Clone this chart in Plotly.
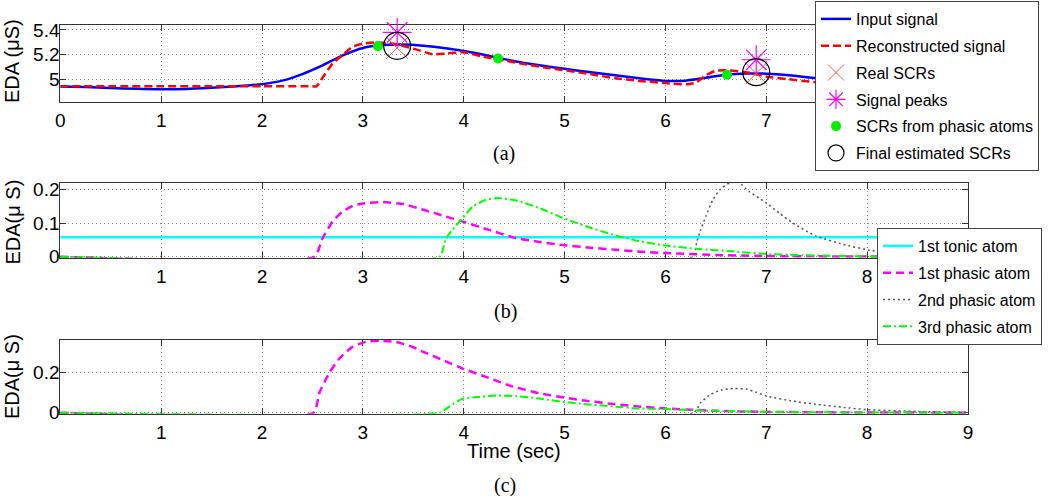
import plotly.graph_objects as go

# ---------------- Panel (a) data ----------------
t_input = [0, 0.25, 0.5, 0.75, 1.0, 1.25, 1.5, 1.75, 2.0, 2.2, 2.4, 2.6, 2.8, 3.0, 3.2, 3.4,
           3.6, 3.8, 4.0, 4.2, 4.4, 4.6, 4.8, 5.0, 5.2, 5.4, 5.6, 5.8, 6.0, 6.2, 6.4, 6.6,
           6.8, 7.0, 7.2, 7.4, 7.6, 7.8, 8.0, 8.25, 8.5, 8.75, 9.0]
eda_input = [4.944, 4.940, 4.933, 4.926, 4.922, 4.925, 4.935, 4.947, 4.964, 4.992, 5.045, 5.115,
             5.195, 5.255, 5.278, 5.282, 5.272, 5.255, 5.230, 5.200, 5.165, 5.135, 5.110, 5.087,
             5.065, 5.045, 5.025, 5.005, 4.990, 4.992, 5.015, 5.040, 5.050, 5.048, 5.038, 5.020,
             5.002, 4.987, 4.976, 4.966, 4.958, 4.952, 4.948]

t_recon = [0, 0.5, 1.0, 1.5, 2.0, 2.5, 2.54, 2.62, 2.7, 2.8, 2.9, 3.0, 3.13, 3.3, 3.5, 3.69,
           3.82, 4.0, 4.19, 4.4, 4.6, 4.8, 5.0, 5.25, 5.5, 5.75, 6.0, 6.21, 6.3, 6.4, 6.5, 6.6,
           6.8, 7.0, 7.2, 7.47, 7.75, 8.0, 8.5, 9.0]
eda_recon = [4.946, 4.946, 4.946, 4.946, 4.946, 4.946, 4.946, 5.04, 5.13, 5.20, 5.265, 5.29,
             5.30, 5.29, 5.25, 5.205, 5.21, 5.22, 5.185, 5.155, 5.125, 5.098, 5.075, 5.045,
             5.012, 4.99, 4.972, 4.962, 4.975, 5.035, 5.072, 5.076, 5.06, 5.025, 5.005, 4.982,
             4.972, 4.966, 4.958, 4.955]

real_scr_t = [3.34, 6.90]
real_scr_v = [5.255, 5.050]
peak_t = [3.34, 6.90]
peak_v = [5.380, 5.160]
phasic_scr_t = [3.15, 4.34, 6.61]
phasic_scr_v = [5.270, 5.170, 5.040]
final_scr_t = [3.34, 6.90]
final_scr_v = [5.272, 5.060]

# ---------------- Panel (b) data ----------------
tonic_t = [0, 9]
tonic_b = [0.058, 0.058]

p1_t_b = [0, 2.52, 2.6, 2.7, 2.8, 2.9, 3.0, 3.2, 3.4, 3.6, 3.8, 4.0, 4.25, 4.5, 4.75, 5.0,
          5.25, 5.5, 5.75, 6.0, 6.5, 7.0, 7.5, 8.0, 9.0]
p1_b = [0, 0, 0.055, 0.105, 0.135, 0.152, 0.159, 0.163, 0.157, 0.140, 0.122, 0.104, 0.080,
        0.057, 0.044, 0.034, 0.027, 0.021, 0.015, 0.011, 0.005, 0.002, 0.001, 0.0005, 0]

p2_t_b = [0, 6.27, 6.31, 6.35, 6.40, 6.47, 6.54, 6.64, 6.73, 6.83, 6.93, 7.0, 7.13, 7.26,
          7.49, 7.76, 8.05, 8.5, 9.0]
p2_b = [0, 0, 0.043, 0.081, 0.120, 0.170, 0.200, 0.221, 0.221, 0.194, 0.175, 0.160, 0.130,
        0.101, 0.062, 0.037, 0.018, 0.008, 0.003]

p3_t_b = [0, 3.76, 3.82, 3.89, 3.98, 4.09, 4.22, 4.34, 4.52, 4.75, 4.98, 5.21, 5.5, 5.73,
          5.98, 6.33, 6.66, 7.0, 7.3, 8.0, 9.0]
p3_b = [0, 0, 0.052, 0.081, 0.112, 0.150, 0.170, 0.175, 0.168, 0.145, 0.116, 0.091, 0.064,
        0.047, 0.034, 0.023, 0.016, 0.008, 0.005, 0.001, 0]

# ---------------- Panel (c) data ----------------
p1_t_c = [0, 2.51, 2.57, 2.67, 2.77, 2.9, 3.03, 3.17, 3.33, 3.5, 3.6, 3.8, 4.0, 4.25, 4.47,
          4.75, 5.0, 5.21, 5.5, 5.73, 6.0, 6.5, 7.0, 7.5, 8.0, 9.0]
p1_c = [0, 0, 0.100, 0.200, 0.270, 0.327, 0.351, 0.356, 0.350, 0.324, 0.301, 0.259, 0.217,
        0.172, 0.132, 0.096, 0.075, 0.059, 0.042, 0.031, 0.021, 0.009, 0.004, 0.002, 0.001, 0]

p2_t_c = [0, 6.28, 6.35, 6.45, 6.55, 6.68, 6.81, 6.9, 7.0, 7.24, 7.49, 7.77, 8.0, 8.5, 9.0]
p2_c = [0, 0, 0.050, 0.091, 0.112, 0.120, 0.116, 0.101, 0.083, 0.059, 0.042, 0.026, 0.015,
        0.006, 0.002]

p3_t_c = [0, 3.76, 3.86, 3.98, 4.13, 4.34, 4.52, 4.75, 4.98, 5.21, 5.48, 5.74, 5.98, 6.33,
          6.66, 7.0, 8.0, 9.0]
p3_c = [0, 0, 0.031, 0.067, 0.078, 0.085, 0.082, 0.070, 0.054, 0.042, 0.031, 0.021, 0.018,
        0.011, 0.008, 0.004, 0.001, 0]

# tick labels
x_ticks_a = [0, 1, 2, 3, 4, 5, 6, 7, 8, 9]
x_ticks_bc = [1, 2, 3, 4, 5, 6, 7, 8, 9]
y_ticks_a = [5, 5.2, 5.4]
y_text_a = ["5", "5.2", "5.4"]
y_ticks_b = [0, 0.1, 0.2]
y_text_b = ["0", "0.1", "0.2"]
y_ticks_c = [0, 0.2]
y_text_c = ["0", "0.2"]

SANS = "Liberation Sans, Arial, Helvetica, sans-serif"
SERIF = "Liberation Serif, Times New Roman, serif"

fig = go.Figure()

# Panel (a)
fig.add_trace(go.Scatter(x=t_input, y=eda_input, mode="lines", name="Input signal",
                         line=dict(color="#0000ff", width=2.5, shape="spline", smoothing=0.6),
                         xaxis="x", yaxis="y", legend="legend", legendgroup="a1"))
fig.add_trace(go.Scatter(x=t_recon, y=eda_recon, mode="lines", name="Reconstructed signal",
                         line=dict(color="#ff0000", width=2.5, dash="8px,4px", shape="spline", smoothing=0.5),
                         xaxis="x", yaxis="y", legend="legend", legendgroup="a2"))
fig.add_trace(go.Scatter(x=real_scr_t, y=real_scr_v, mode="markers", name="Real SCRs",
                         marker=dict(symbol="x-thin-open", size=22, color="#ff5050",
                                     line=dict(color="#ff5050", width=1)),
                         xaxis="x", yaxis="y", legend="legend", legendgroup="a3"))
fig.add_trace(go.Scatter(x=peak_t, y=peak_v, mode="markers", name="Signal peaks",
                         marker=dict(symbol="asterisk-open", size=24, color="#ff00ff",
                                     line=dict(color="#ff00ff", width=1.2)),
                         xaxis="x", yaxis="y", legend="legend", legendgroup="a4", cliponaxis=False))
fig.add_trace(go.Scatter(x=phasic_scr_t, y=phasic_scr_v, mode="markers", name="SCRs from phasic atoms",
                         marker=dict(symbol="circle", size=10, color="#00ee00"),
                         xaxis="x", yaxis="y", legend="legend", legendgroup="a5"))
fig.add_trace(go.Scatter(x=final_scr_t, y=final_scr_v, mode="markers", name="Final estimated SCRs",
                         marker=dict(symbol="circle-open", size=27, color="#000000",
                                     line=dict(color="#000000", width=1.2)),
                         xaxis="x", yaxis="y", legend="legend", legendgroup="a6"))

# Panel (b)
fig.add_trace(go.Scatter(x=tonic_t, y=tonic_b, mode="lines", name="1st tonic atom",
                         line=dict(color="#00ffff", width=2.5),
                         xaxis="x2", yaxis="y2", legend="legend2", legendgroup="b1"))
fig.add_trace(go.Scatter(x=p1_t_b, y=p1_b, mode="lines", name="1st phasic atom",
                         line=dict(color="#ff00ff", width=2.5, dash="8px,5px", shape="spline", smoothing=0.5),
                         xaxis="x2", yaxis="y2", legend="legend2", legendgroup="b2"))
fig.add_trace(go.Scatter(x=p2_t_b, y=p2_b, mode="lines", name="2nd phasic atom",
                         line=dict(color="#555555", width=1.5, dash="2px,3px", shape="spline", smoothing=0.5),
                         xaxis="x2", yaxis="y2", legend="legend2", legendgroup="b3"))
fig.add_trace(go.Scatter(x=p3_t_b, y=p3_b, mode="lines", name="3rd phasic atom",
                         line=dict(color="#00ff00", width=2, dash="8px,3px,2px,3px", shape="spline", smoothing=0.5),
                         xaxis="x2", yaxis="y2", legend="legend2", legendgroup="b4"))

# Panel (c)
fig.add_trace(go.Scatter(x=p1_t_c, y=p1_c, mode="lines", showlegend=False,
                         line=dict(color="#ff00ff", width=2.5, dash="8px,5px", shape="spline", smoothing=0.5),
                         xaxis="x3", yaxis="y3"))
fig.add_trace(go.Scatter(x=p2_t_c, y=p2_c, mode="lines", showlegend=False,
                         line=dict(color="#555555", width=1.5, dash="2px,3px", shape="spline", smoothing=0.5),
                         xaxis="x3", yaxis="y3"))
fig.add_trace(go.Scatter(x=p3_t_c, y=p3_c, mode="lines", showlegend=False,
                         line=dict(color="#00ff00", width=2, dash="8px,3px,2px,3px", shape="spline", smoothing=0.5),
                         xaxis="x3", yaxis="y3"))

W, H = 1050, 496
xdom = [60.3 / W, 968 / W]


def ydom(top, bottom):
    return [1 - bottom / H, 1 - top / H]


axis_common = dict(showline=True, linecolor="#333333", linewidth=1, mirror="ticks",
                   ticks="inside", ticklen=6, tickcolor="#333333", tickwidth=1,
                   showgrid=True, gridcolor="#8a8a8a", gridwidth=1, griddash="1px,3px",
                   zeroline=False, layer="below traces",
                   tickfont=dict(family=SANS, size=19, color="#000000"))
x_common = dict(axis_common, ticklabelstandoff=1)
y_common = dict(axis_common, ticklabelstandoff=-4)

fig.update_layout(
    width=W, height=H,
    margin=dict(l=0, r=0, t=0, b=0, autoexpand=False),
    paper_bgcolor="white", plot_bgcolor="white",
    font=dict(family=SANS, color="#000000"),
    xaxis=dict(domain=xdom, range=[0, 9], tickvals=x_ticks_a, anchor="y", **x_common),
    yaxis=dict(domain=ydom(25, 102), range=[4.82, 5.44], tickvals=y_ticks_a, ticktext=y_text_a,
               anchor="x", **y_common),
    xaxis2=dict(domain=xdom, range=[0, 9], tickvals=x_ticks_bc, anchor="y2", **x_common),
    yaxis2=dict(domain=ydom(183, 257.7), range=[-0.003, 0.22], tickvals=y_ticks_b, ticktext=y_text_b,
                anchor="x2", **y_common),
    xaxis3=dict(domain=xdom, range=[0, 9], tickvals=x_ticks_bc, anchor="y3", **x_common),
    yaxis3=dict(domain=ydom(340, 413.7), range=[-0.005, 0.36], tickvals=y_ticks_c, ticktext=y_text_c,
                anchor="x3", **y_common),
    legend=dict(x=815 / W, y=1 - 1 / H, xanchor="left", yanchor="top",
                bgcolor="white", bordercolor="#444444", borderwidth=1,
                font=dict(family=SANS, size=16, color="#000000"),
                traceorder="grouped", tracegroupgap=3, itemsizing="trace"),
    legend2=dict(x=877 / W, y=1 - 228 / H, xanchor="left", yanchor="top",
                 bgcolor="white", bordercolor="#444444", borderwidth=1,
                 font=dict(family=SANS, size=16, color="#000000"),
                 traceorder="grouped", tracegroupgap=3),
    showlegend=True,
)

annotations = [
    dict(text="EDA (μS)", x=12 / W, y=1 - 61 / H, textangle=-90, font=dict(family=SANS, size=20)),
    dict(text="EDA(μ S)", x=12 / W, y=1 - 222.5 / H, textangle=-90, font=dict(family=SANS, size=20)),
    dict(text="EDA(μ S)", x=12 / W, y=1 - 377 / H, textangle=-90, font=dict(family=SANS, size=20)),
    dict(text="Time (sec)", x=514 / W, y=1 - 451 / H, font=dict(family=SANS, size=20)),
    dict(text="(a)", x=504 / W, y=1 - 153 / H, font=dict(family=SERIF, size=20)),
    dict(text="(b)", x=505 / W, y=1 - 311 / H, font=dict(family=SERIF, size=20)),
    dict(text="(c)", x=505 / W, y=1 - 485 / H, font=dict(family=SERIF, size=20)),
]
for a in annotations:
    a.update(xref="paper", yref="paper", showarrow=False, xanchor="center", yanchor="middle")
fig.update_layout(annotations=annotations)

# remove the default page margin so the figure sits at the window's top-left corner
fig.write_html("out.html", config={"displayModeBar": False},
               post_script="document.body.style.margin='0px';")
